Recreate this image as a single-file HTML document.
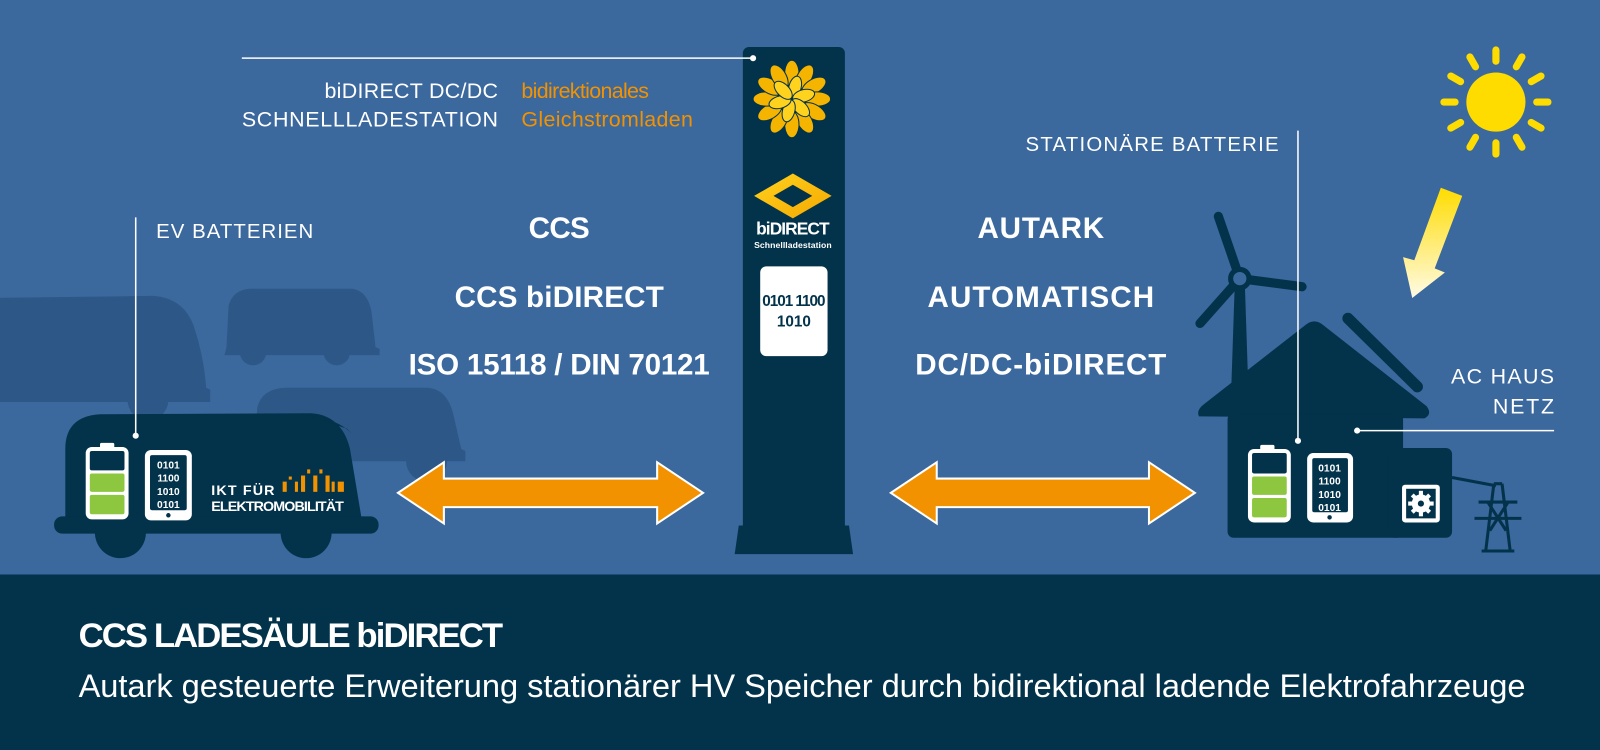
<!DOCTYPE html>
<html><head><meta charset="utf-8"><style>
html,body{margin:0;padding:0;background:#3b689d;}
svg{display:block;}
text{font-family:"Liberation Sans",sans-serif;}
</style></head><body>
<svg width="1600" height="750" viewBox="0 0 1568 735" xmlns="http://www.w3.org/2000/svg">
<defs>
<linearGradient id="sg" x1="0" y1="0" x2="0" y2="1"><stop offset="0" stop-color="#ffdc00"/><stop offset="1" stop-color="#fffbe6"/></linearGradient>
<linearGradient id="dg" x1="0" y1="0" x2="1" y2="1"><stop offset="0" stop-color="#ffd21e"/><stop offset="1" stop-color="#f5a800"/></linearGradient>
</defs>
<rect width="1568" height="735" fill="#3b689d"/>
<rect y="563" width="1568" height="172" fill="#03334b"/>

<!-- background vans -->
<g fill="#2c5787">
<path d="M-10,392 L-10,292 L150,290 Q180,292 190,320 Q200,350 202,380 L206,382 L206,394 L-10,394 Z"/>
<circle cx="145" cy="392" r="20"/>
<path d="M222,340 L224,300 Q228,284 245,283 L345,283 Q360,285 364,305 L368,340 L372,342 L372,348 L220,348 Z"/>
<circle cx="248" cy="345" r="13"/><circle cx="330" cy="345" r="13"/>
<path d="M250,440 L252,400 Q256,381 280,380 L420,380 Q438,382 444,405 L452,440 L456,442 L456,452 L248,452 Z"/>
<circle cx="418" cy="452" r="20"/>
</g>

<!-- front van -->
<g fill="#03334b">
<path d="M64,512 L64,440 Q64,408 98,406 L305,405 Q335,407 343,440 L355,512 Z"/>
<path d="M300,407 Q330,410 345,425 L340,420 Z"/>
<rect x="53" y="506" width="318" height="17" rx="8"/>
<circle cx="118" cy="522" r="25"/><circle cx="300" cy="522" r="25"/>
</g>
<!-- van battery -->
<rect x="98" y="434" width="14" height="5" rx="1.5" fill="#fff"/>
<rect x="84" y="438" width="42" height="71" rx="6" fill="#fff"/>
<rect x="88" y="442" width="34" height="19" rx="2" fill="#03334b"/>
<rect x="88" y="464" width="34" height="18" rx="2" fill="#8dc63f"/>
<rect x="88" y="485" width="34" height="19" rx="2" fill="#8dc63f"/>
<!-- van tablet -->
<rect x="142" y="441" width="46" height="69" rx="6" fill="#fff"/>
<rect x="147" y="446" width="36" height="54" rx="2" fill="#03334b"/>
<circle cx="165" cy="505" r="2.2" fill="#03334b"/>
<g fill="#fff" font-size="10" font-weight="bold" text-anchor="middle">
<text x="165" y="459">0101</text><text x="165" y="472">1100</text><text x="165" y="485">1010</text><text x="165" y="498">0101</text>
</g>
<text x="207" y="485" fill="#fff" font-size="14" font-weight="bold" textLength="62">IKT FÜR</text>
<text x="207" y="501" fill="#fff" font-size="14" font-weight="bold" textLength="130">ELEKTROMOBILITÄT</text>
<g fill="#f39200">
<rect x="277" y="472" width="4" height="10"/><rect x="283" y="467" width="3" height="3"/>
<rect x="289" y="472" width="3" height="10"/><rect x="295" y="466" width="4" height="16"/>
<rect x="301" y="460" width="3" height="4"/><rect x="307" y="466" width="4" height="16"/>
<rect x="313" y="460" width="3" height="4"/><rect x="319" y="466" width="4" height="16"/>
<rect x="325" y="472" width="3" height="10"/><rect x="331" y="472" width="6" height="10"/>
</g>

<!-- pillar -->
<rect x="728" y="46" width="100" height="480" rx="6" fill="#03334b"/>
<path d="M724,515 L832,515 L836,543 L720,543 Z" fill="#03334b"/>
<g transform="translate(776,97)">
<g fill="#f5b400" stroke="#03334b" stroke-width="1">
<ellipse cx="0" cy="-25" rx="7" ry="13" transform="rotate(0)"/>
<ellipse cx="0" cy="-25" rx="7" ry="13" transform="rotate(30)"/>
<ellipse cx="0" cy="-25" rx="7" ry="13" transform="rotate(60)"/>
<ellipse cx="0" cy="-25" rx="7" ry="13" transform="rotate(90)"/>
<ellipse cx="0" cy="-25" rx="7" ry="13" transform="rotate(120)"/>
<ellipse cx="0" cy="-25" rx="7" ry="13" transform="rotate(150)"/>
<ellipse cx="0" cy="-25" rx="7" ry="13" transform="rotate(180)"/>
<ellipse cx="0" cy="-25" rx="7" ry="13" transform="rotate(210)"/>
<ellipse cx="0" cy="-25" rx="7" ry="13" transform="rotate(240)"/>
<ellipse cx="0" cy="-25" rx="7" ry="13" transform="rotate(270)"/>
<ellipse cx="0" cy="-25" rx="7" ry="13" transform="rotate(300)"/>
<ellipse cx="0" cy="-25" rx="7" ry="13" transform="rotate(330)"/>
</g>
<g fill="#ffd21e" stroke="#03334b" stroke-width="1">
<ellipse cx="0" cy="-12" rx="6" ry="11" transform="rotate(15)"/>
<ellipse cx="0" cy="-12" rx="6" ry="11" transform="rotate(75)"/>
<ellipse cx="0" cy="-12" rx="6" ry="11" transform="rotate(135)"/>
<ellipse cx="0" cy="-12" rx="6" ry="11" transform="rotate(195)"/>
<ellipse cx="0" cy="-12" rx="6" ry="11" transform="rotate(255)"/>
<ellipse cx="0" cy="-12" rx="6" ry="11" transform="rotate(315)"/>
</g>
</g>
<path d="M777,170 L815,192 L777,214 L739,192 Z" fill="url(#dg)"/>
<path d="M777,181 L796,192 L777,203 L758,192 Z" fill="#03334b"/>
<text x="777" y="230" fill="#fff" font-size="17" font-weight="bold" text-anchor="middle" textLength="72">biDIRECT</text>
<text x="777" y="243" fill="#fff" font-size="8.5" font-weight="bold" text-anchor="middle" textLength="76">Schnellladestation</text>
<rect x="745" y="261" width="66" height="88" rx="6" fill="#fff"/>
<text x="778" y="300" fill="#03334b" font-size="15" font-weight="bold" text-anchor="middle" textLength="62">0101 1100</text>
<text x="778" y="320" fill="#03334b" font-size="15" font-weight="bold" text-anchor="middle">1010</text>

<!-- orange arrows -->
<g fill="#f39200" stroke="#fff" stroke-width="2" stroke-linejoin="miter">
<path d="M390,483 L435,453 L435,469 L644,469 L644,453 L689,483 L644,513 L644,497 L435,497 L435,513 Z"/>
<path d="M873,483 L918,453 L918,469 L1126,469 L1126,453 L1171,483 L1126,513 L1126,497 L918,497 L918,513 Z"/>
</g>

<!-- labels -->
<line x1="237" y1="57" x2="738" y2="57" stroke="#fff" stroke-width="1.5"/>
<circle cx="738" cy="57" r="3" fill="#fff"/>
<g font-size="21" fill="#fff" text-anchor="end">
<text x="488" y="96" textLength="170">biDIRECT DC/DC</text>
<text x="488" y="124" textLength="251">SCHNELLLADESTATION</text>
</g>
<g font-size="21" fill="#f39200">
<text x="511" y="96" textLength="125">bidirektionales</text>
<text x="511" y="124" textLength="168">Gleichstromladen</text>
</g>
<line x1="133" y1="213" x2="133" y2="427" stroke="#fff" stroke-width="1.5"/>
<circle cx="133" cy="427" r="3" fill="#fff"/>
<text x="153" y="233" font-size="20" fill="#fff" textLength="154">EV BATTERIEN</text>

<g font-size="29" font-weight="bold" fill="#fff" text-anchor="middle">
<text x="548" y="233" textLength="60">CCS</text>
<text x="548" y="301" textLength="205">CCS biDIRECT</text>
<text x="548" y="367" textLength="295">ISO 15118 / DIN 70121</text>
<text x="1020" y="233" textLength="124">AUTARK</text>
<text x="1020" y="301" textLength="222">AUTOMATISCH</text>
<text x="1020" y="367" textLength="246">DC/DC-biDIRECT</text>
</g>

<!-- sun -->
<circle cx="1466" cy="100" r="29" fill="#ffdc00"/>
<g stroke="#ffdc00" stroke-width="7" stroke-linecap="round">
<line x1="1466" y1="60" x2="1466" y2="49"/><line x1="1466" y1="140" x2="1466" y2="151"/>
<line x1="1426" y1="100" x2="1415" y2="100"/><line x1="1506" y1="100" x2="1517" y2="100"/>
<line x1="1446" y1="65.4" x2="1440.5" y2="55.8"/><line x1="1486" y1="65.4" x2="1491.5" y2="55.8"/>
<line x1="1446" y1="134.6" x2="1440.5" y2="144.2"/><line x1="1486" y1="134.6" x2="1491.5" y2="144.2"/>
<line x1="1431.4" y1="80" x2="1421.8" y2="74.5"/><line x1="1500.6" y1="80" x2="1510.2" y2="74.5"/>
<line x1="1431.4" y1="120" x2="1421.8" y2="125.5"/><line x1="1500.6" y1="120" x2="1510.2" y2="125.5"/>
</g>
<polygon points="1412,184 1433,192 1406,263 1416,267 1384,292 1375,252 1386,255" fill="url(#sg)"/>

<!-- wind turbine -->
<g fill="#03334b" stroke="#03334b">
<path d="M1210,280 L1220,280 L1224,400 L1206,400 Z" stroke="none"/>
<line x1="1215" y1="273" x2="1194" y2="212" stroke-width="9" stroke-linecap="round"/>
<line x1="1215" y1="273" x2="1276" y2="281" stroke-width="9" stroke-linecap="round"/>
<line x1="1215" y1="273" x2="1176" y2="317" stroke-width="9" stroke-linecap="round"/>
<circle cx="1215" cy="273" r="9" fill="#3b689d" stroke-width="5"/>
</g>
<!-- house -->
<g fill="#03334b">
<path d="M1175,408 Q1172,402 1180,396 L1280,318 Q1288,312 1296,318 L1398,398 Q1404,406 1396,410 Z"/>
<rect x="1203" y="405" width="172" height="122" rx="6"/>
<rect x="1360" y="439" width="63" height="88" rx="6"/>
<line x1="1321" y1="312" x2="1389" y2="379" stroke="#03334b" stroke-width="11" stroke-linecap="round"/>
</g>
<rect x="1235" y="436" width="14" height="5" rx="1.5" fill="#fff"/>
<rect x="1223" y="440" width="42" height="72" rx="6" fill="#fff"/>
<rect x="1227" y="444" width="34" height="20" rx="2" fill="#03334b"/>
<rect x="1227" y="467" width="34" height="18" rx="2" fill="#8dc63f"/>
<rect x="1227" y="488" width="34" height="19" rx="2" fill="#8dc63f"/>
<rect x="1281" y="444" width="45" height="68" rx="6" fill="#fff"/>
<rect x="1286" y="449" width="35" height="53" rx="2" fill="#03334b"/>
<circle cx="1303" cy="507" r="2.2" fill="#03334b"/>
<g fill="#fff" font-size="10" font-weight="bold" text-anchor="middle">
<text x="1303" y="462">0101</text><text x="1303" y="475">1100</text><text x="1303" y="488">1010</text><text x="1303" y="501">0101</text>
</g>
<rect x="1374" y="475" width="37" height="37" rx="3" fill="#fff"/>
<rect x="1378" y="479" width="29" height="29" fill="#03334b"/>
<circle cx="1392.5" cy="493.5" r="9" fill="#fff"/>
<g stroke="#fff" stroke-width="4"><line x1="1392.5" y1="481" x2="1392.5" y2="506"/><line x1="1380" y1="493.5" x2="1405" y2="493.5"/><line x1="1384" y1="485" x2="1401" y2="502"/><line x1="1401" y1="485" x2="1384" y2="502"/></g>
<circle cx="1392.5" cy="493.5" r="3" fill="#03334b"/>
<!-- pylon -->
<g stroke="#03334b" stroke-width="3" fill="none">
<line x1="1423" y1="468" x2="1466" y2="476"/>
<path d="M1464,474 L1456,540 M1472,474 L1480,540 M1464,474 L1472,474 M1449,492 L1487,492 M1445,508 L1491,508 M1458,492 L1476,520 M1478,492 L1460,520 M1452,540 L1484,540"/>
</g>

<line x1="1272" y1="128" x2="1272" y2="432" stroke="#fff" stroke-width="1.5"/>
<circle cx="1272" cy="432" r="3" fill="#fff"/>
<text x="1005" y="148" font-size="20" fill="#fff" textLength="248">STATIONÄRE BATTERIE</text>
<line x1="1330" y1="422" x2="1523" y2="422" stroke="#fff" stroke-width="1.5"/>
<circle cx="1330" cy="422" r="3" fill="#fff"/>
<g font-size="21" fill="#fff" text-anchor="end">
<text x="1523" y="376" textLength="101">AC HAUS</text>
<text x="1523" y="405" textLength="60">NETZ</text>
</g>

<!-- bottom text -->
<text x="77" y="634" font-size="34" font-weight="bold" fill="#fff" textLength="416">CCS LADESÄULE biDIRECT</text>
<text x="77" y="683" font-size="32" fill="#fff" textLength="1418">Autark gesteuerte Erweiterung stationärer HV Speicher durch bidirektional ladende Elektrofahrzeuge</text>
</svg>
</body></html>
